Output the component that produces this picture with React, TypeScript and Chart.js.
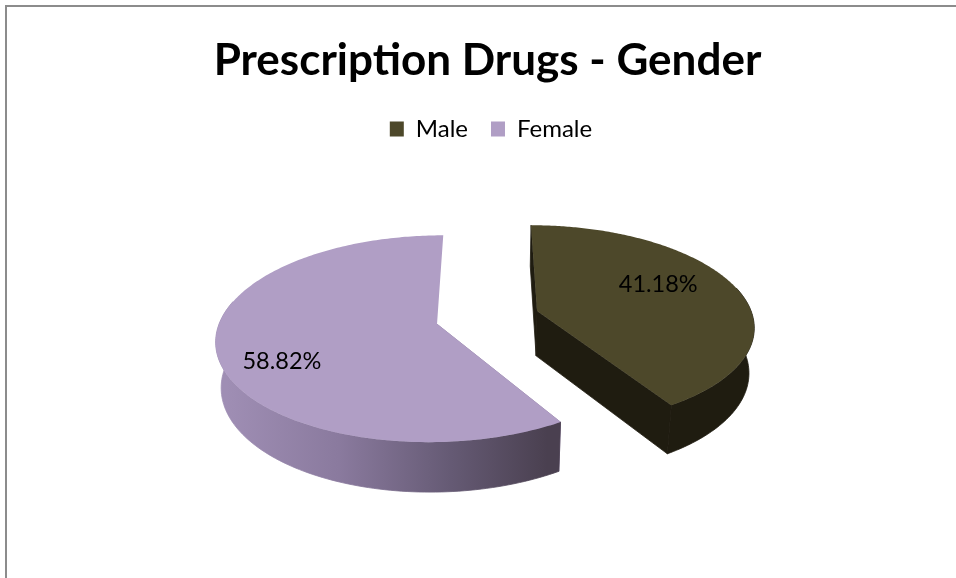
import React, { useEffect, useRef } from "react";
import { Chart, registerables } from "chart.js";

Chart.register(...registerables);

const categories = ["Male", "Female"];
const shares = [41.18, 58.82];
const sliceColors = ["#4d482a", "#b09ec5"];
const wallColors = ["#1f1c10", null];
const titleText = "Prescription Drugs - Gender";

// view of the pie plane
const TILT_Y = 99.5 / 216;
const PERSP = 0.14;
const DEPTH = 46;
const BOTTOM_SHRINK = 0.02;
const labelPlace = [
  { deg: 64.8, frac: 0.66 },
  { deg: 242.5, frac: 0.75 },
];

const pie3d = {
  id: "pie3d",
  afterLayout(chart: any) {
    chart.legend.left += 3.5;
    chart.legend.right += 3.5;
  },
  beforeDatasetsDraw(chart: any) {
    const ctx = chart.ctx;
    const arcs = chart.getDatasetMeta(0).data;
    const project = (cx: number, cy: number, r: number, X: number, Y: number, low: boolean) => {
      const w = 1 - PERSP * Y + (low ? BOTTOM_SHRINK : 0);
      return {
        x: cx + (r * X) / w,
        y: cy + (r * TILT_Y * Y + (low ? DEPTH : 0)) / w,
      };
    };
    arcs.forEach((arc: any, i: number) => {
      const { x: cx, y: cy, startAngle, endAngle, outerRadius: r } = arc.getProps(
        ["x", "y", "startAngle", "endAngle", "outerRadius"],
        true
      );
      const mid = (startAngle + endAngle) / 2;
      const off = arc.options.offset / r;
      const ox = Math.cos(mid) * off;
      const oy = Math.sin(mid) * off;
      const rim = (low: boolean) => {
        const pts: { x: number; y: number }[] = [];
        const n = 160;
        for (let k = 0; k <= n; k++) {
          const a = startAngle + ((endAngle - startAngle) * k) / n;
          if (Math.sin(a) > -0.25) pts.push(project(cx, cy, r, ox + Math.cos(a), oy + Math.sin(a), low));
        }
        return pts;
      };
      const at = (a: number, low: boolean) => project(cx, cy, r, ox + Math.cos(a), oy + Math.sin(a), low);
      const topRim = rim(false);
      const lowRim = rim(true);
      const tipT = project(cx, cy, r, ox, oy, false);
      const tipB = project(cx, cy, r, ox, oy, true);
      const poly = (pts: { x: number; y: number }[]) => {
        ctx.beginPath();
        pts.forEach((p, k) => (k ? ctx.lineTo(p.x, p.y) : ctx.moveTo(p.x, p.y)));
        ctx.closePath();
      };
      let wall: any = wallColors[i];
      if (!wall) {
        const g = ctx.createLinearGradient(cx - r - 45, 0, cx + 60, 0);
        g.addColorStop(0, "#9f8eb4");
        g.addColorStop(0.35, "#8a7a9e");
        g.addColorStop(0.7, "#655a74");
        g.addColorStop(1, "#4a4050");
        wall = g;
      }
      ctx.save();
      ctx.lineWidth = 0.8;
      ctx.lineJoin = "round";
      const cutColor = i === 1 ? "#9a88ae" : wall;
      ctx.fillStyle = cutColor;
      ctx.strokeStyle = cutColor;
      // cut wall at the slice start
      poly([tipT, tipB, at(startAngle, true), at(startAngle, false)]);
      ctx.fill();
      ctx.stroke();
      // cut wall at the slice end, seen only on the dark slice
      if (i === 0) {
        poly([tipT, tipB, at(endAngle, true), at(endAngle, false)]);
        ctx.fill();
        ctx.stroke();
      }
      // outer wall
      ctx.fillStyle = wall;
      ctx.strokeStyle = wall;
      poly([...topRim, ...lowRim.slice().reverse()]);
      ctx.fill();
      ctx.stroke();
      // top face
      ctx.fillStyle = arc.options.backgroundColor;
      const face: { x: number; y: number }[] = [tipT];
      for (let k = 0; k <= 240; k++) {
        face.push(at(startAngle + ((endAngle - startAngle) * k) / 240, false));
      }
      poly(face);
      ctx.fill();
      // label
      const place = labelPlace[i];
      const th = ((place.deg - 90) * Math.PI) / 180;
      const lp = project(cx, cy, r, ox + Math.cos(th) * place.frac, oy + Math.sin(th) * place.frac, false);
      ctx.fillStyle = "#000";
      ctx.font = "23.5px Lato";
      ctx.textAlign = "center";
      ctx.textBaseline = "middle";
      ctx.fillText(shares[i].toFixed(2) + "%", lp.x, lp.y);
      ctx.restore();
    });
    return false;
  },
};

export default function App() {
  const ref = useRef<HTMLCanvasElement>(null);
  useEffect(() => {
    document.body.style.margin = "0";
    const chart = new Chart(ref.current!, {
      type: "pie",
      data: {
        labels: categories,
        datasets: [
          {
            data: shares,
            backgroundColor: sliceColors,
            borderWidth: 0,
            offset: 52,
          },
        ],
      },
      plugins: [pie3d],
      options: {
        animation: false,
        responsive: false,
        radius: 216,
        layout: { padding: { left: 19, right: 0, top: 0, bottom: 94 } },
        plugins: {
          tooltip: { enabled: false },
          title: {
            display: true,
            text: titleText,
            color: "#000",
            font: { family: "Lato", size: 44, weight: "bold" },
            padding: { top: 34, bottom: 7.2 },
          },
          legend: {
            position: "top",
            labels: {
              color: "#000",
              boxWidth: 14,
              boxHeight: 15,
              font: { family: "Lato", size: 24 },
              padding: 23,
            },
          },
        },
      } as any,
    });
    return () => chart.destroy();
  }, []);
  return (
    <div style={{ position: "relative", width: 956, height: 578, overflow: "hidden", background: "#fff" }}>
      <canvas ref={ref} width={956} height={578} style={{ display: "block" }} />
      <div
        style={{
          position: "absolute",
          left: 5,
          top: 5,
          width: 960,
          height: 580,
          borderLeft: "2px solid #8c8c8c",
          borderTop: "2px solid #8c8c8c",
          pointerEvents: "none",
        }}
      />
    </div>
  );
}
